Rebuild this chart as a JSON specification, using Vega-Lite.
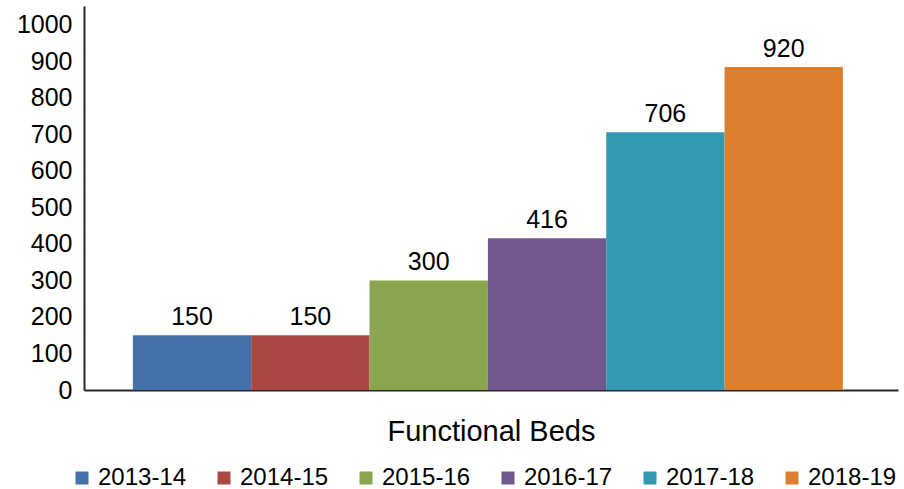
{
  "$schema": "https://vega.github.io/schema/vega-lite/v6.json",
  "autosize": {"type": "none"},
  "width": 814,
  "height": 384,
  "padding": {"left": 84, "top": 6, "right": 6, "bottom": 99},
  "config": {
    "font": "Liberation Sans",
    "view": {"stroke": null},
    "axis": {"grid": false, "ticks": false, "domainColor": "#262626", "domainWidth": 2, "labelColor": "#000000", "titleColor": "#000000", "labelFont": "Liberation Sans", "titleFont": "Liberation Sans"}
  },
  "data": {
    "values": [
      {"year": "2013-14", "value": 150, "label": "150"},
      {"year": "2014-15", "value": 150, "label": "150"},
      {"year": "2015-16", "value": 300, "label": "300"},
      {"year": "2016-17", "value": 416, "label": "416"},
      {"year": "2017-18", "value": 706, "label": "706"},
      {"year": "2018-19", "value": 885, "label": "920"}
    ]
  },
  "encoding": {
    "x": {
      "field": "year",
      "type": "nominal",
      "sort": null,
      "scale": {"paddingInner": 0, "paddingOuter": 0.4394, "align": 0.47},
      "axis": {"labels": false, "title": "Functional Beds", "titleFontSize": 29, "titleFontWeight": "normal", "titlePadding": 27}
    },
    "y": {
      "field": "value",
      "type": "quantitative",
      "scale": {"domain": [0, 1052], "nice": false},
      "axis": {"values": [0, 100, 200, 300, 400, 500, 600, 700, 800, 900, 1000], "format": "d", "labelFontSize": 25, "labelPadding": 12, "title": null}
    }
  },
  "layer": [
    {
      "mark": {"type": "bar"},
      "encoding": {
        "color": {
          "field": "year",
          "type": "nominal",
          "sort": null,
          "scale": {"range": ["#4472A8", "#AA4644", "#89A64E", "#71588F", "#3399B0", "#DB7F2E"]},
          "legend": {
            "title": null,
            "orient": "none",
            "direction": "horizontal",
            "columns": 6,
            "legendX": -14,
            "legendY": 460,
            "symbolType": "square",
            "symbolSize": 169,
            "symbolStrokeWidth": 0,
            "labelFontSize": 24,
            "labelColor": "#000000",
            "labelFont": "Liberation Sans",
            "labelOffset": 4,
            "columnPadding": 25
          }
        }
      }
    },
    {
      "mark": {"type": "text", "baseline": "alphabetic", "dy": -10, "fontSize": 25, "color": "#000000"},
      "encoding": {"text": {"field": "label"}}
    }
  ]
}
